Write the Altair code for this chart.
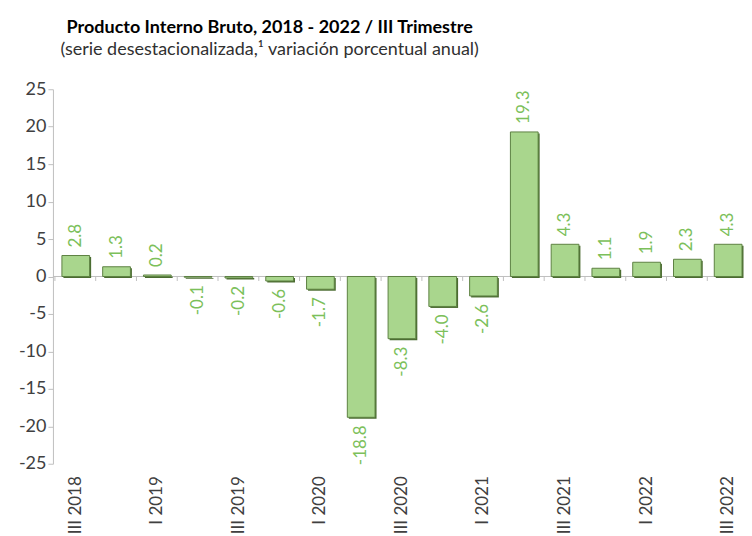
import altair as alt
import pandas as pd

quarters = ["III 2018", "IV 2018", "I 2019", "II 2019", "III 2019", "IV 2019",
            "I 2020", "II 2020", "III 2020", "IV 2020", "I 2021", "II 2021",
            "III 2021", "IV 2021", "I 2022", "II 2022", "III 2022"]
values = [2.8, 1.3, 0.2, -0.1, -0.2, -0.6, -1.7, -18.8, -8.3, -4.0, -2.6,
          19.3, 4.3, 1.1, 1.9, 2.3, 4.3]
shown_labels = ["III 2018", "I 2019", "III 2019", "I 2020", "III 2020",
                "I 2021", "III 2021", "I 2022", "III 2022"]
y_ticks = [-25, -20, -15, -10, -5, 0, 5, 10, 15, 20, 25]

FONT = "Lato"
df = pd.DataFrame({"q": quarters, "v": values})

xscale = alt.Scale(paddingInner=0.32, paddingOuter=0.11, align=1)
x = alt.X("q:N", sort=quarters, scale=xscale,
          axis=alt.Axis(values=shown_labels, labelAngle=-90, ticks=False, domain=False,
                        title=None, labelFontSize=17, labelColor="#404040",
                        labelPadding=12, labelFont=FONT, labelOverlap=False))
yaxis = alt.Axis(values=y_ticks, grid=False, title=None, domainColor="#c0c0c0",
                 tickColor="#c0c0c0", tickSize=5, labelFontSize=18,
                 labelColor="#404040", labelPadding=2, labelFont=FONT,
                 labelOverlap=False, labelExpr="'' + datum.value")
yscale = alt.Scale(domain=[-25, 25], nice=False)
y = alt.Y("v:Q", scale=yscale, axis=yaxis)

base = alt.Chart(df).transform_calculate(
    lbl="replace(format(datum.v, '.1f'), '\u2212', '-')",
    z="0", zb="-0.6")

zero = alt.Chart(pd.DataFrame({"z": [0]})).mark_rule(color="#c0c0c0", strokeWidth=1).encode(
    y=alt.Y("z:Q", scale=yscale, axis=yaxis))

ticks = base.mark_rule(color="#c0c0c0", xOffset=-7).encode(
    x=alt.X("q:N", sort=quarters, bandPosition=0),
    y=alt.Y("z:Q", scale=yscale, axis=yaxis), y2="zb:Q")

shadow = base.mark_bar(fill="#4a6b30", xOffset=1.5, yOffset=1.5).encode(x=x, y=y)
bars = base.mark_bar(fill="#a9d68d", stroke="#5d8242", strokeWidth=1).encode(x=x, y=y)

lbl_color = "#7cc05a"
pos = base.transform_filter("datum.v >= 0").mark_text(
    angle=270, align="left", baseline="middle", dx=8, color=lbl_color,
    fontSize=17, font=FONT).encode(x=x, y=y, text="lbl:N")
neg = base.transform_filter("datum.v < 0").mark_text(
    angle=270, align="right", baseline="middle", dx=-8, color=lbl_color,
    fontSize=17, font=FONT).encode(x=x, y=y, text="lbl:N")

chart = alt.layer(zero, ticks, shadow, bars, pos, neg).properties(
    width=690, height=375,
    title=alt.TitleParams(
        text="Producto Interno Bruto, 2018 - 2022 / III Trimestre",
        subtitle="(serie desestacionalizada,\u00b9 variación porcentual anual)",
        anchor="middle", dx=-128, font=FONT, fontSize=18, fontWeight="bold",
        color="#000000", subtitleFont=FONT, subtitleFontSize=18,
        subtitleColor="#303030", subtitlePadding=4, offset=21),
    padding={"left": 10, "top": 11, "right": 0, "bottom": 0},
).configure_view(stroke=None).configure_axisY(labelOverlap=False)

chart.save("out.html", embed_options={"renderer": "svg", "actions": False})
